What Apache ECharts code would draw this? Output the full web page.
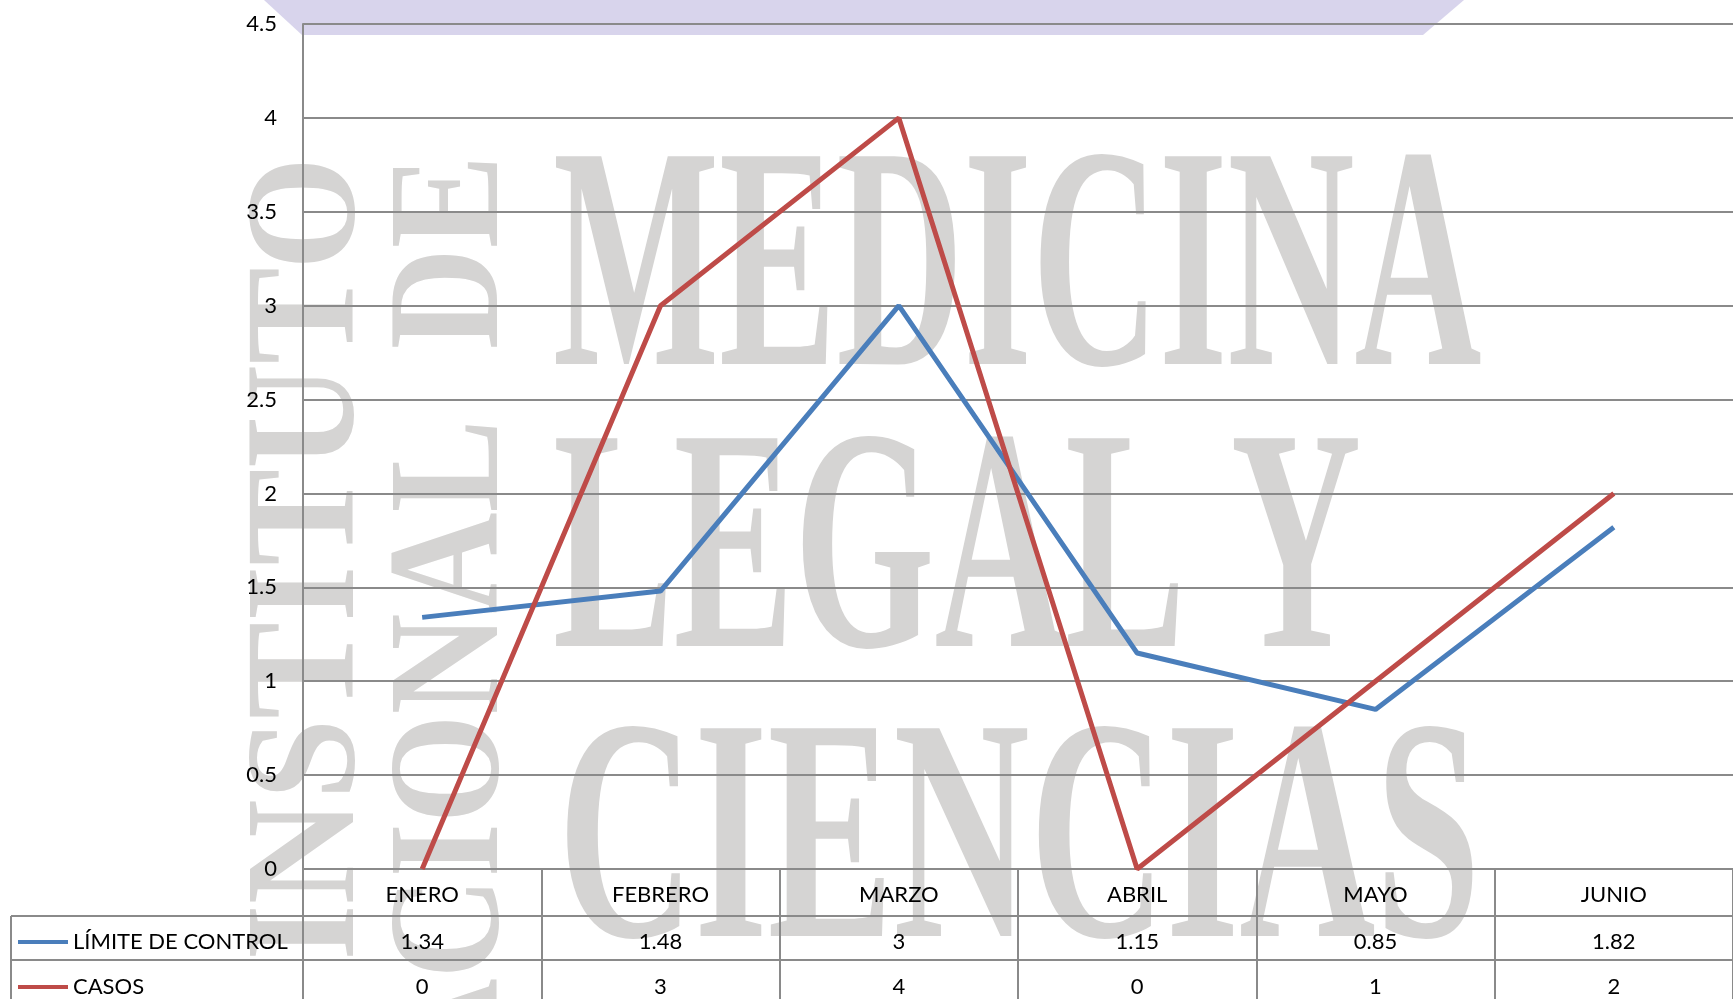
<!DOCTYPE html>
<html>
<head>
<meta charset="utf-8">
<script src="https://cdn.jsdelivr.net/npm/echarts@6/dist/echarts.min.js"></script>
<style>
  html, body { margin: 0; padding: 0; background: #fff; }
  #chart { width: 1733px; height: 999px; }
</style>
</head>
<body>
<div id="chart"></div>
<script>
const meses = ['ENERO', 'FEBRERO', 'MARZO', 'ABRIL', 'MAYO', 'JUNIO'];
const limiteControl = [1.34, 1.48, 3, 1.15, 0.85, 1.82];
const casos = [0, 3, 4, 0, 1, 2];
const yTicks = [0, 0.5, 1, 1.5, 2, 2.5, 3, 3.5, 4, 4.5];

const gris = '#8a8a8a';
const marca = '#d5d4d3';
const fuente = 'Lato, "Open Sans", sans-serif';
const serif = 'bold {s}px "Liberation Serif"';

const chart = echarts.init(document.getElementById('chart'));

// eje de categorias para cada fila de la tabla de datos
function filaTabla(offset, largo, etiquetas, margen) {
  return {
    type: 'category',
    position: 'bottom',
    offset: offset,
    data: meses,
    boundaryGap: true,
    axisLine: { show: true, lineStyle: { color: gris, width: 2 } },
    axisTick: { show: true, interval: 0, length: largo, lineStyle: { color: gris, width: 2 } },
    axisLabel: {
      interval: 0,
      margin: margen,
      verticalAlign: 'middle',
      color: '#000',
      fontFamily: fuente,
      fontSize: 22,
      formatter: (v, i) => String(etiquetas[i])
    },
    splitLine: { show: false }
  };
}

chart.setOption({
  animation: false,
  backgroundColor: '#fff',
  grid: { left: 303, right: 0, top: 24, bottom: 130, containLabel: false },
  legend: {
    orient: 'vertical',
    left: 18,
    top: 930,
    padding: 0,
    icon: 'rect',
    itemWidth: 50,
    itemHeight: 4,
    itemGap: 21,
    textStyle: { color: '#000', fontFamily: fuente, fontSize: 22, lineHeight: 24 },
    data: ['LÍMITE DE CONTROL', 'CASOS']
  },
  xAxis: [
    filaTabla(0, 47, meses, 26),
    filaTabla(47, 44, limiteControl, 26),
    filaTabla(91, 50, casos, 27)
  ],
  yAxis: {
    type: 'value',
    min: yTicks[0],
    max: yTicks[yTicks.length - 1],
    interval: 0.5,
    axisLine: { show: true, lineStyle: { color: gris, width: 2 } },
    axisTick: { show: false },
    axisLabel: { color: '#000', fontFamily: fuente, fontSize: 22, margin: 26 },
    splitLine: { lineStyle: { color: gris, width: 2 } }
  },
  series: [
    {
      name: 'LÍMITE DE CONTROL',
      type: 'line',
      data: limiteControl,
      symbol: 'none',
      lineStyle: { color: '#4a7ebb', width: 5 },
      itemStyle: { color: '#4a7ebb' }
    },
    {
      name: 'CASOS',
      type: 'line',
      data: casos,
      symbol: 'none',
      lineStyle: { color: '#be4b48', width: 5 },
      itemStyle: { color: '#be4b48' }
    }
  ],
  graphic: [
    // franja lila de la cabecera
    {
      type: 'polygon', z: -20, silent: true,
      shape: { points: [[264, 0], [1464, 0], [1423, 35], [302, 35]] },
      style: { fill: '#d8d4ec' }
    },
    // marca de agua
    {
      type: 'text', z: -10, silent: true, x: 553, y: 282, scaleX: 0.555,
      style: { text: 'MEDICINA', fill: marca, font: serif.replace('{s}', 317), verticalAlign: 'middle' }
    },
    {
      type: 'text', z: -10, silent: true, x: 553, y: 564, scaleX: 0.57,
      style: { text: 'LEGAL Y', fill: marca, font: serif.replace('{s}', 317), verticalAlign: 'middle' }
    },
    {
      type: 'text', z: -10, silent: true, x: 558, y: 854, scaleX: 0.595,
      style: { text: 'CIENCIAS', fill: marca, font: serif.replace('{s}', 317), verticalAlign: 'middle' }
    },
    {
      type: 'text', z: -10, silent: true, x: 313, y: 157, rotation: Math.PI / 2, scaleX: 0.93,
      style: { text: 'INSTITUTO', fill: marca, font: serif.replace('{s}', 156), align: 'right', verticalAlign: 'middle' }
    },
    {
      type: 'text', z: -10, silent: true, x: 456, y: 155, rotation: Math.PI / 2, scaleX: 0.885,
      style: { text: 'NACIONAL  DE', fill: marca, font: serif.replace('{s}', 158), align: 'right', verticalAlign: 'middle' }
    },
    // bordes de la columna de leyenda
    {
      type: 'line', silent: true,
      shape: { x1: 11, y1: 916, x2: 303, y2: 916 },
      style: { stroke: gris, lineWidth: 2 }
    },
    {
      type: 'line', silent: true,
      shape: { x1: 11, y1: 960, x2: 303, y2: 960 },
      style: { stroke: gris, lineWidth: 2 }
    },
    {
      type: 'line', silent: true,
      shape: { x1: 11, y1: 916, x2: 11, y2: 999 },
      style: { stroke: gris, lineWidth: 2 }
    }
  ]
});
</script>
</body>
</html>
